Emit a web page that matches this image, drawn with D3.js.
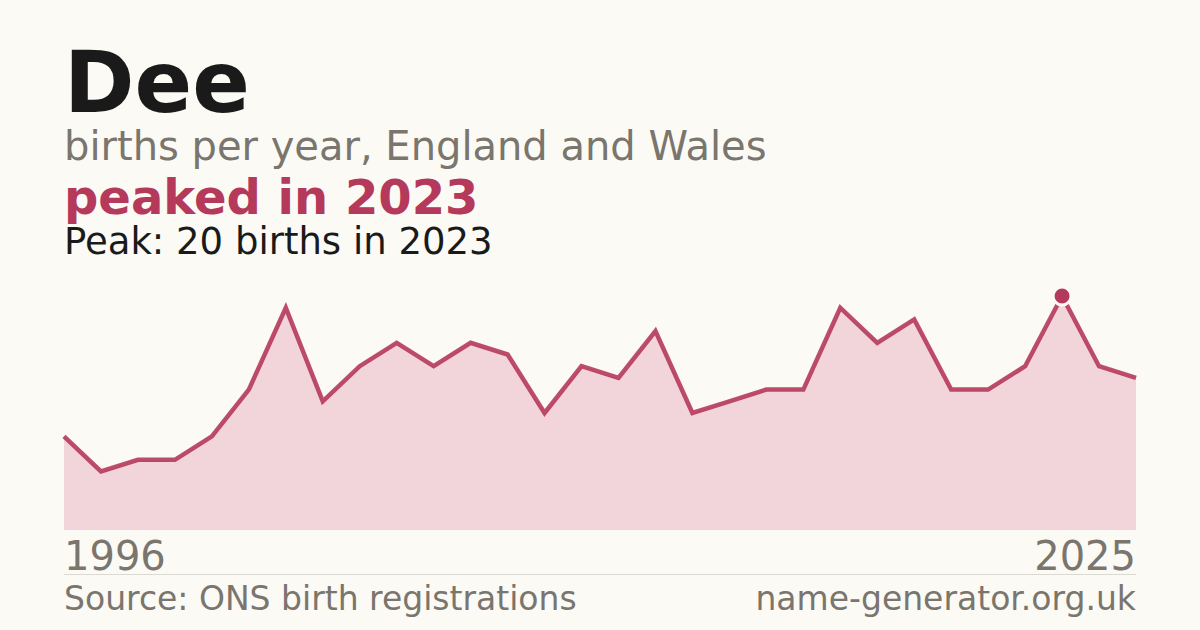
<!DOCTYPE html>
<html>
<head>
<meta charset="utf-8">
<script src="https://cdn.jsdelivr.net/npm/d3@7"></script>
<style>
  html, body { margin: 0; padding: 0; background: #fbfaf5; }
  svg { display: block; font-family: 'DejaVu Sans', sans-serif; }
</style>
</head>
<body>
<div id="chart"></div>
<script>
// Births per year for the name
const years = d3.range(1996, 2026);
const births = [8, 5, 6, 6, 8, 12, 19, 11, 14, 16, 14, 16, 15, 10, 14, 13, 17, 10, 11, 12,
                12, 19, 16, 18, 12, 12, 14, 20, 14, 13];
const peakYear = 2023;
const peakValue = 20;

const width = 1200;
const height = 630;
const margin = { top: 296, right: 64, bottom: 100, left: 64 };

const accent = '#b5395a';
const grey = '#7a756d';

const svg = d3.select('#chart')
  .append('svg')
  .attr('width', width)
  .attr('height', height);

svg.append('rect')
  .attr('width', width)
  .attr('height', height)
  .attr('fill', '#fbfaf5');

// Titles
svg.append('text')
  .attr('x', 64).attr('y', 112)
  .style('font-size', '85px').style('font-weight', 'bold')
  .attr('fill', '#1a1a1a')
  .text('Dee');

svg.append('text')
  .attr('x', 64).attr('y', 160)
  .style('font-size', '40px')
  .attr('fill', grey)
  .text('births per year, England and Wales');

svg.append('text')
  .attr('x', 64).attr('y', 214)
  .style('font-size', '48px').style('font-weight', 'bold')
  .attr('fill', accent)
  .text(`peaked in ${peakYear}`);

svg.append('text')
  .attr('x', 64).attr('y', 254)
  .style('font-size', '37px')
  .attr('fill', '#1a1a1a')
  .text(`Peak: ${peakValue} births in ${peakYear}`);

// Scales
const x = d3.scaleLinear()
  .domain(d3.extent(years))
  .range([margin.left, width - margin.right]);

const y = d3.scaleLinear()
  .domain([0, d3.max(births)])
  .range([height - margin.bottom, margin.top]);

const data = years.map((yr, i) => ({ year: yr, value: births[i] }));

// Area
const area = d3.area()
  .x((d) => x(d.year))
  .y0(y(0))
  .y1((d) => y(d.value));

svg.append('path')
  .datum(data)
  .attr('fill', '#f2d5db')
  .attr('d', area);

// Line
const line = d3.line()
  .x((d) => x(d.year))
  .y((d) => y(d.value));

svg.append('path')
  .datum(data)
  .attr('fill', 'none')
  .attr('stroke', accent)
  .attr('stroke-opacity', 0.9)
  .attr('stroke-width', 4.5)
  .attr('stroke-linejoin', 'miter')
  .attr('d', line);

// Peak marker
svg.append('circle')
  .attr('cx', x(peakYear))
  .attr('cy', y(peakValue))
  .attr('r', 9)
  .attr('fill', accent)
  .attr('stroke', '#fbfaf5')
  .attr('stroke-width', 3);

// Year labels
svg.append('text')
  .attr('x', x(years[0])).attr('y', 570)
  .style('font-size', '40px')
  .attr('fill', grey)
  .text(years[0]);

svg.append('text')
  .attr('x', x(years[years.length - 1])).attr('y', 570)
  .attr('text-anchor', 'end')
  .style('font-size', '40px')
  .attr('fill', grey)
  .text(years[years.length - 1]);

// Separator
svg.append('line')
  .attr('x1', 64).attr('x2', width - 64)
  .attr('y1', 574.5).attr('y2', 574.5)
  .attr('stroke', '#dcd9d2')
  .attr('stroke-width', 1);

// Footer
svg.append('text')
  .attr('x', 64).attr('y', 610)
  .style('font-size', '33px')
  .attr('fill', grey)
  .text('Source: ONS birth registrations');

svg.append('text')
  .attr('x', width - 64).attr('y', 610)
  .attr('text-anchor', 'end')
  .style('font-size', '33px')
  .attr('fill', grey)
  .text('name-generator.org.uk');
</script>
</body>
</html>
